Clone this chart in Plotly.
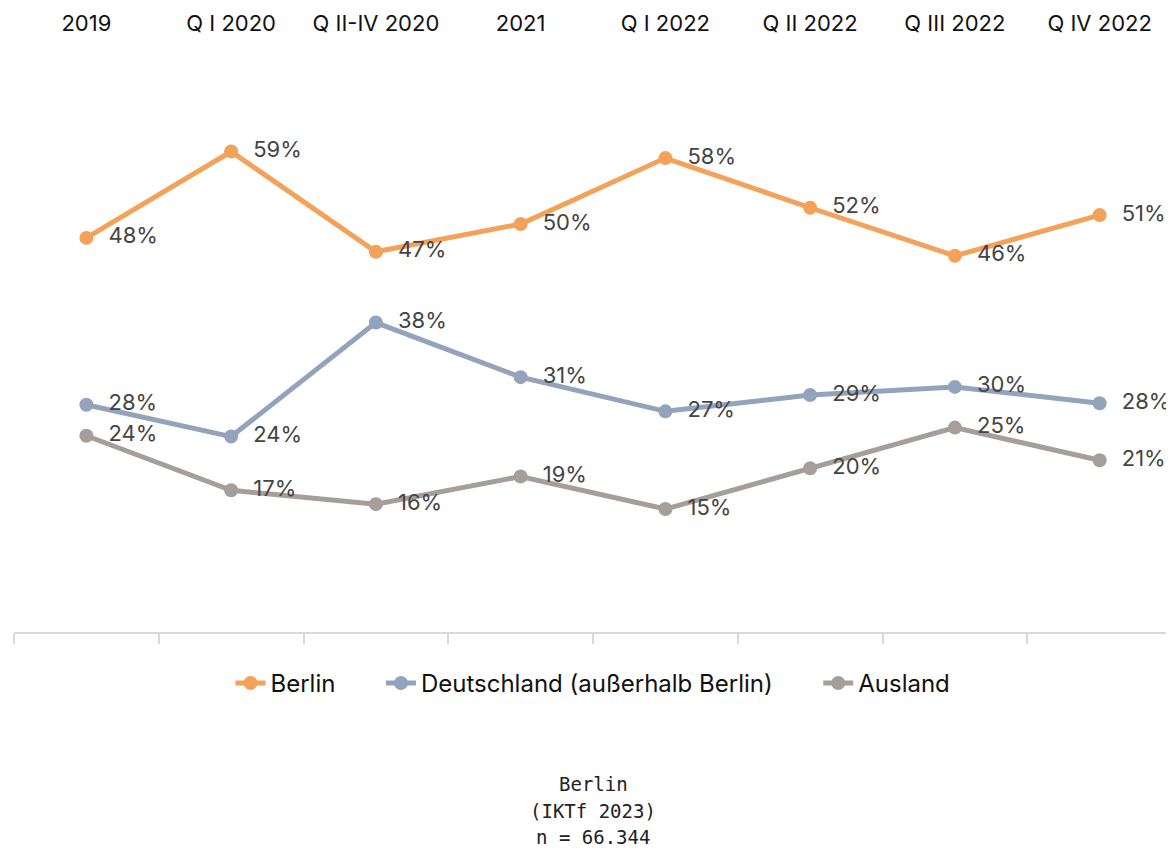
import plotly.graph_objects as go

categories = ["2019", "Q I 2020", "Q II-IV 2020", "2021", "Q I 2022", "Q II 2022", "Q III 2022", "Q IV 2022"]
berlin = [48.4, 59.0, 46.7, 50.1, 58.2, 52.1, 46.2, 51.2]
deutschland = [27.9, 24.0, 38.0, 31.3, 27.1, 29.1, 30.1, 28.1]
ausland = [24.1, 17.4, 15.7, 19.1, 15.1, 20.1, 25.1, 21.1]
series_names = ["Berlin", "Deutschland (außerhalb Berlin)", "Ausland"]
series_colors = ["#F4A25A", "#93A3BC", "#A59E99"]
footer_lines = ["Berlin", "(IKTf 2023)", "n = 66.344"]

W, H = 1166, 844
ML, MR, MT, MB = 6, 2, 48, 220
PH = H - MT - MB

fig = go.Figure()
n = len(series_names)
for i, (name, vals, col) in enumerate(zip(series_names, [berlin, deutschland, ausland], series_colors)):
    pad = "\u00a0" * 6 if i < n - 1 else ""
    fig.add_trace(go.Scatter(
        x=categories, y=vals, name=name + pad, mode="lines+markers+text",
        line=dict(color=col, width=5), marker=dict(color=col, size=14),
        texttemplate="\u00a0\u00a0%{y:.0f}%", textposition="middle right",
        textfont=dict(family="Inter", size=22, color="#444444"),
        cliponaxis=False,
    ))

fig.update_layout(
    width=W, height=H,
    margin=dict(l=ML, r=MR, t=MT, b=MB),
    paper_bgcolor="white", plot_bgcolor="white",
    font=dict(family="Inter", size=22, color="#111111"),
    showlegend=True,
    legend=dict(orientation="h", x=0.5, xanchor="center", y=-(676 - (H - MB)) / PH, yanchor="middle",
                font=dict(family="Inter", size=24, color="#111111")),
    xaxis=dict(type="category", range=[-0.5, 7.5], showline=True, linecolor="#d9d9d9", linewidth=2,
               ticks="outside", ticklen=10, tickcolor="#d9d9d9", tickwidth=2, tickson="boundaries",
               showticklabels=False, showgrid=False, zeroline=False),
    xaxis2=dict(overlaying="x", side="top", range=[-0.5, 7.5],
                tickmode="array", tickvals=list(range(len(categories))), ticktext=categories,
                ticks="outside", ticklen=21, tickcolor="rgba(0,0,0,0)", showgrid=False, showline=False,
                zeroline=False, tickfont=dict(family="Inter", size=22, color="#111111")),
    yaxis=dict(range=[0, 70], visible=False, showgrid=False, zeroline=False),
)
# invisible trace to activate the top axis
fig.add_trace(go.Scatter(x=[0], y=[None], xaxis="x2", showlegend=False, hoverinfo="skip"))

footer_y = [778, 805, 831]
for line, yy in zip(footer_lines, footer_y):
    fig.add_annotation(text=line, xref="paper", yref="paper", x=0.5, xanchor="center",
                       y=-(yy - (H - MB)) / PH, yanchor="middle", showarrow=False,
                       font=dict(family="DejaVu Sans Mono", size=19, color="#222222"))

fig.write_html("out.html")
